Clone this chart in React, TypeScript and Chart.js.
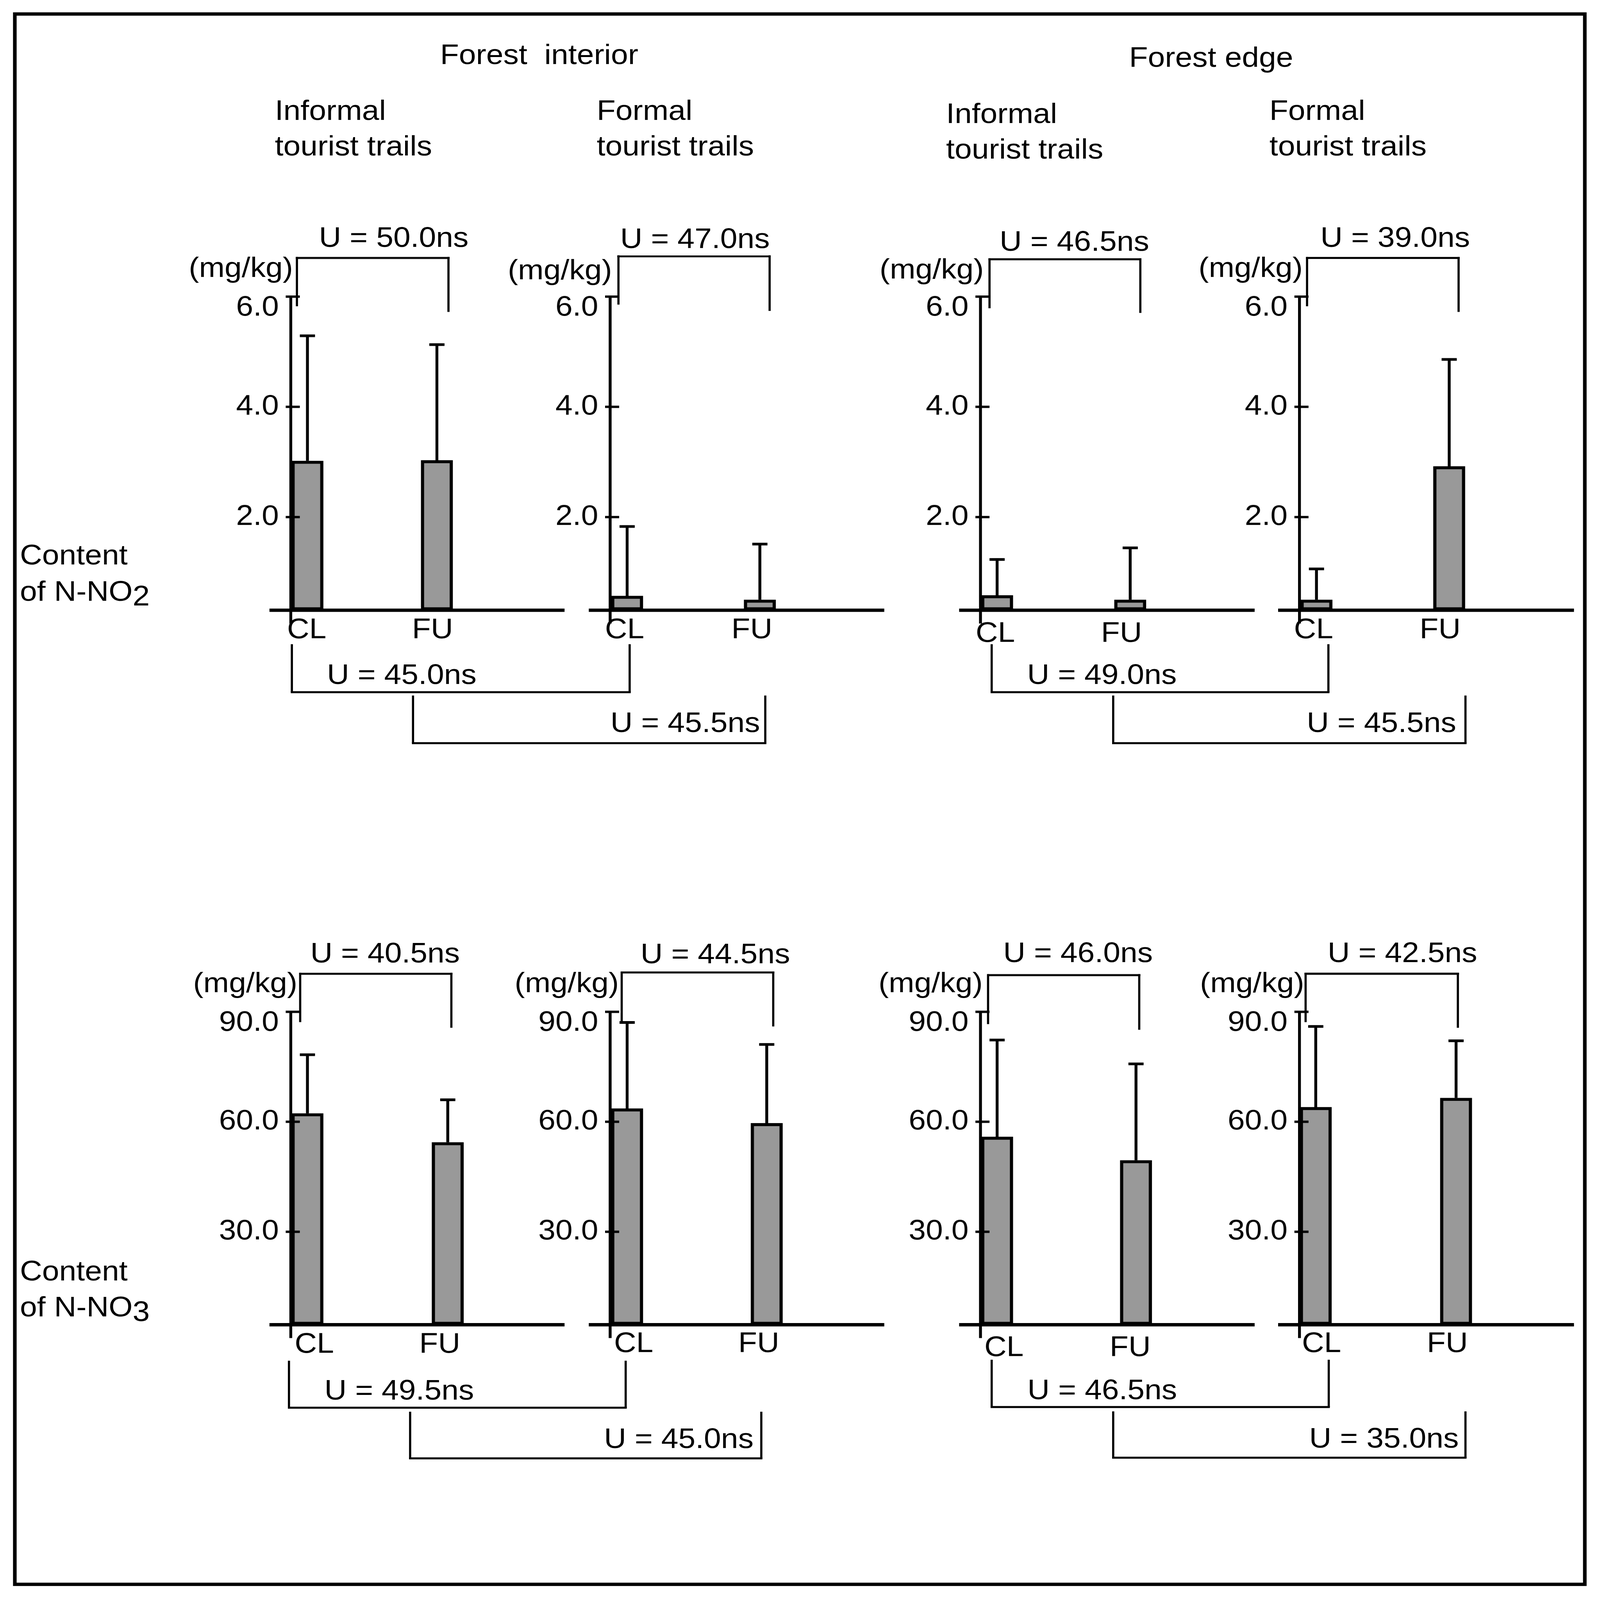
import React, { useEffect, useRef } from 'react';
import { Chart, registerables } from 'chart.js';

Chart.register(...registerables);

const FONT = "'Liberation Sans', Arial, Helvetica, sans-serif";
const FS = 85;
const PAGE_W = 4424;
const PAGE_H = 4801;

// ---------------- data ----------------
const CATEGORIES = ['CL', 'FU'];

const NO2_TICKS = [2, 4, 6];
const NO2_AXIS_MIN = 0.31;
const NO2_AXIS_MAX = 6;
const NO3_TICKS = [30, 60, 90];
const NO3_AXIS_MIN = 4.64;
const NO3_AXIS_MAX = 90;

const NO2_INTERIOR_INFORMAL_MEAN = [3.02, 3.03];
const NO2_INTERIOR_INFORMAL_SD = [2.27, 2.10];
const NO2_INTERIOR_FORMAL_MEAN = [0.57, 0.5];
const NO2_INTERIOR_FORMAL_SD = [1.26, 1.01];
const NO2_EDGE_INFORMAL_MEAN = [0.58, 0.5];
const NO2_EDGE_INFORMAL_SD = [0.65, 0.94];
const NO2_EDGE_FORMAL_MEAN = [0.5, 2.92];
const NO2_EDGE_FORMAL_SD = [0.56, 1.94];

const NO3_INTERIOR_INFORMAL_MEAN = [62.3, 54.4];
const NO3_INTERIOR_INFORMAL_SD = [16.0, 11.6];
const NO3_INTERIOR_FORMAL_MEAN = [63.6, 59.6];
const NO3_INTERIOR_FORMAL_SD = [23.5, 21.5];
const NO3_EDGE_INFORMAL_MEAN = [55.9, 49.5];
const NO3_EDGE_INFORMAL_SD = [26.4, 26.3];
const NO3_EDGE_FORMAL_MEAN = [64.0, 66.5];
const NO3_EDGE_FORMAL_SD = [22.0, 15.6];

const U_TOP_NO2 = ['U = 50.0ns', 'U = 47.0ns', 'U = 46.5ns', 'U = 39.0ns'];
const U_TOP_NO3 = ['U = 40.5ns', 'U = 44.5ns', 'U = 46.0ns', 'U = 42.5ns'];
const U_LOW_NO2 = ['U = 45.0ns', 'U = 45.5ns', 'U = 49.0ns', 'U = 45.5ns'];
const U_LOW_NO3 = ['U = 49.5ns', 'U = 45.0ns', 'U = 46.5ns', 'U = 35.0ns'];

const UNIT = '(mg/kg)';
const ZONES = ['Forest  interior', 'Forest edge'];
const TRAILS = [['Informal', 'tourist trails'], ['Formal', 'tourist trails']];

// ---------------- layout (px, in reference space) ----------------
const Y_W = 260;
const X_H = 170;
const PAD_T = 140;
const PAD_R = 20;

const ROW_TOP = { yTop: 890, yBase: 1831 };
const ROW_BOT = { yTop: 3036, yBase: 3975 };

const PANEL_LAYOUT = [
  { ...ROW_TOP, axisX: 804, clX: 850, fuX: 1208, xEnd: 1561, shift: [-2, -12], pad: 10 },
  { ...ROW_TOP, axisX: 1687, clX: 1734, fuX: 2101, xEnd: 2445, shift: [-7, -22], pad: 10 },
  { ...ROW_TOP, axisX: 2711, clX: 2757, fuX: 3125, xEnd: 3469, shift: [-5, -24], pad: 21 },
  { ...ROW_TOP, axisX: 3593, clX: 3640, fuX: 4007, xEnd: 4352, shift: [-8, -25], pad: 10 },
  { ...ROW_BOT, axisX: 804, clX: 850, fuX: 1238, xEnd: 1561, shift: [19, -22], pad: 10 },
  { ...ROW_BOT, axisX: 1687, clX: 1734, fuX: 2120, xEnd: 2445, shift: [18, -22], pad: 8 },
  { ...ROW_BOT, axisX: 2711, clX: 2757, fuX: 3141, xEnd: 3469, shift: [19, -16], pad: 20 },
  { ...ROW_BOT, axisX: 3593, clX: 3638, fuX: 4026, xEnd: 4352, shift: [16, -24], pad: 8 },
];

const TOP_BRACKETS = [
  [821, 1240, 774, 919, 936], [1710, 2128, 769, 914, 933], [2736, 3153, 778, 925, 939], [3614, 4033, 774, 919, 936],
  [830, 1248, 2922, 3067, 3084], [1719, 2138, 2918, 3065, 3080], [2732, 3150, 2926, 3073, 3090], [3610, 4031, 2922, 3067, 3084],
];
const TOP_U_POS = [
  [882, 741], [1715, 744], [2764, 752], [3651, 741],
  [858, 2888], [1771, 2891], [2774, 2887], [3671, 2887],
];
const UNIT_POS = [
  [522, 831], [1404, 838], [2432, 836], [3314, 831],
  [534, 2977], [1423, 2977], [2429, 2977], [3318, 2977],
];
const LOW_BRACKETS = [
  [807, 1741, 1936, 2077], [1142, 2116, 2090, 2230], [2742, 3673, 1936, 2077], [3078, 4052, 2090, 2230],
  [799, 1730, 4086, 4224], [1134, 2105, 4239, 4376], [2742, 3674, 4083, 4222], [3078, 4052, 4238, 4374],
];
const LOW_U_POS = [
  [904, 2052], [1688, 2197], [2840, 2052], [3613, 2197],
  [897, 4200], [1670, 4345], [2841, 4199], [3620, 4344],
];

const LW_BRACKET = 6;

type Lay = typeof PANEL_LAYOUT[number];

function PanelChart(props: { mean: number[]; sd: number[]; ticks: number[]; min: number; max: number; lay: Lay }) {
  const { mean, sd, ticks, min, max, lay } = props;
  const ref = useRef<HTMLCanvasElement>(null);
  const left = lay.axisX - Y_W;
  const top = lay.yTop - PAD_T;
  const width = Y_W + (lay.xEnd - lay.axisX) + PAD_R;
  const height = PAD_T + (lay.yBase - lay.yTop) + X_H;

  useEffect(() => {
    const u = lay.fuX - lay.clX;
    const xMin = 1 - (lay.clX - lay.axisX) / u;
    const xMax = 2 + (lay.xEnd - lay.fuX) / u;

    const deco = {
      id: 'panelDeco',
      afterDatasetsDraw(chart: any) {
        const { ctx, chartArea } = chart;
        const ys = chart.scales.y;
        const ax = chartArea.left;
        const base = chartArea.bottom;
        ctx.save();
        ctx.strokeStyle = '#000';
        ctx.lineCap = 'butt';
        // error bars: mean + SD
        const meta = chart.getDatasetMeta(0);
        ctx.lineWidth = 8;
        meta.data.forEach((el: any, i: number) => {
          const yt = ys.getPixelForValue(mean[i] + sd[i]);
          ctx.beginPath();
          ctx.moveTo(el.x, el.y);
          ctx.lineTo(el.x, yt);
          ctx.moveTo(el.x - 21, yt);
          ctx.lineTo(el.x + 21, yt);
          ctx.stroke();
        });
        // y axis line and ticks
        ctx.lineWidth = 8;
        ctx.beginPath();
        ctx.moveTo(ax, ys.getPixelForValue(ys.max) - 3);
        ctx.lineTo(ax, base + 40);
        ctx.stroke();
        ctx.lineWidth = 7;
        ys.ticks.forEach((t: any) => {
          const py = ys.getPixelForValue(t.value);
          ctx.beginPath();
          ctx.moveTo(ax - 14, py);
          ctx.lineTo(ax + 25, py);
          ctx.stroke();
        });
        // x axis line
        ctx.lineWidth = 10;
        ctx.beginPath();
        ctx.moveTo(ax - 59, base);
        ctx.lineTo(chartArea.right, base);
        ctx.stroke();
        ctx.restore();
      },
    };

    const chart = new Chart(ref.current as HTMLCanvasElement, {
      type: 'bar',
      data: {
        datasets: [
          {
            data: mean.map((m, i) => ({ x: i + 1, y: m })),
            backgroundColor: '#999999',
            borderColor: '#000000',
            borderWidth: 9,
            borderSkipped: false,
            barThickness: 88,
            base: min,
          } as any,
        ],
      },
      options: {
        responsive: true,
        maintainAspectRatio: false,
        animation: false,
        devicePixelRatio: 1,
        events: [],
        layout: { padding: { top: PAD_T, right: PAD_R, left: 0, bottom: 0 } },
        plugins: { legend: { display: false }, tooltip: { enabled: false } },
        scales: {
          x: {
            type: 'linear',
            min: xMin,
            max: xMax,
            offset: false,
            grid: { display: false, drawTicks: false },
            border: { display: false },
            afterBuildTicks: (s: any) => {
              s.ticks = CATEGORIES.map((_, i) => ({ value: i + 1 + lay.shift[i] / u }));
            },
            afterFit: (s: any) => {
              s.height = X_H;
            },
            ticks: {
              autoSkip: false,
              maxRotation: 0,
              minRotation: 0,
              padding: lay.pad,
              color: '#000',
              font: { family: FONT, size: FS, lineHeight: 1.2 },
              callback: (_v: any, i: number) => CATEGORIES[i],
            },
          },
          y: {
            type: 'linear',
            min,
            max,
            beginAtZero: false,
            grid: { display: false, drawTicks: false },
            border: { display: false },
            afterBuildTicks: (s: any) => {
              s.ticks = ticks.map((v) => ({ value: v }));
            },
            afterFit: (s: any) => {
              s.width = Y_W;
            },
            ticks: {
              autoSkip: false,
              padding: 33,
              color: '#000',
              font: { family: FONT, size: FS, lineHeight: 0.8 },
              callback: (v: any) => (Number(v) === max ? ['', Number(v).toFixed(1)] : Number(v).toFixed(1)),
            },
          },
        } as any,
      },
      plugins: [deco],
    });
    return () => chart.destroy();
  }, []);

  return (
    <div style={{ position: 'absolute', left, top, width, height }}>
      <canvas ref={ref} />
    </div>
  );
}

const Txt = ({ x, b, children }: { x: number; b: number; children: any }) => (
  <div
    style={{
      position: 'absolute',
      left: x,
      top: b - 72,
      fontFamily: FONT,
      fontSize: FS,
      lineHeight: `${FS}px`,
      whiteSpace: 'pre',
      color: '#000',
    }}
  >
    {children}
  </div>
);

const HL = ({ x1, x2, y, w = LW_BRACKET }: { x1: number; x2: number; y: number; w?: number }) => (
  <div style={{ position: 'absolute', left: x1 - w / 2, top: y - w / 2, width: x2 - x1 + w, height: w, background: '#000' }} />
);
const VL = ({ x, y1, y2, w = LW_BRACKET }: { x: number; y1: number; y2: number; w?: number }) => (
  <div style={{ position: 'absolute', left: x - w / 2, top: y1 - w / 2, width: w, height: y2 - y1 + w / 2, background: '#000' }} />
);

export default function App() {
  const vw = typeof window !== 'undefined' ? window.innerWidth : PAGE_W;
  const vh = typeof window !== 'undefined' ? window.innerHeight : PAGE_H;
  const kx = vw / PAGE_W;
  const ky = vh / PAGE_H;

  const panels = [
    { mean: NO2_INTERIOR_INFORMAL_MEAN, sd: NO2_INTERIOR_INFORMAL_SD, ticks: NO2_TICKS, min: NO2_AXIS_MIN, max: NO2_AXIS_MAX },
    { mean: NO2_INTERIOR_FORMAL_MEAN, sd: NO2_INTERIOR_FORMAL_SD, ticks: NO2_TICKS, min: NO2_AXIS_MIN, max: NO2_AXIS_MAX },
    { mean: NO2_EDGE_INFORMAL_MEAN, sd: NO2_EDGE_INFORMAL_SD, ticks: NO2_TICKS, min: NO2_AXIS_MIN, max: NO2_AXIS_MAX },
    { mean: NO2_EDGE_FORMAL_MEAN, sd: NO2_EDGE_FORMAL_SD, ticks: NO2_TICKS, min: NO2_AXIS_MIN, max: NO2_AXIS_MAX },
    { mean: NO3_INTERIOR_INFORMAL_MEAN, sd: NO3_INTERIOR_INFORMAL_SD, ticks: NO3_TICKS, min: NO3_AXIS_MIN, max: NO3_AXIS_MAX },
    { mean: NO3_INTERIOR_FORMAL_MEAN, sd: NO3_INTERIOR_FORMAL_SD, ticks: NO3_TICKS, min: NO3_AXIS_MIN, max: NO3_AXIS_MAX },
    { mean: NO3_EDGE_INFORMAL_MEAN, sd: NO3_EDGE_INFORMAL_SD, ticks: NO3_TICKS, min: NO3_AXIS_MIN, max: NO3_AXIS_MAX },
    { mean: NO3_EDGE_FORMAL_MEAN, sd: NO3_EDGE_FORMAL_SD, ticks: NO3_TICKS, min: NO3_AXIS_MIN, max: NO3_AXIS_MAX },
  ];
  const topU = [...U_TOP_NO2, ...U_TOP_NO3];
  const lowU = [...U_LOW_NO2, ...U_LOW_NO3];

  return (
    <div style={{ position: 'absolute', left: 0, top: 0, width: vw, height: vh, overflow: 'hidden', background: '#fff' }}>
      <div
        style={{
          position: 'absolute',
          left: 0,
          top: 0,
          width: PAGE_W,
          height: PAGE_H,
          background: '#fff',
          fontFamily: FONT,
          transform: `scale(${kx}, ${ky})`,
          transformOrigin: '0 0',
        }}
      >
        <div
          style={{
            position: 'absolute',
            left: 36,
            top: 37,
            width: 4351,
            height: 4722,
            border: '10px solid #000',
            boxSizing: 'border-box',
          }}
        />

        <Txt x={1217} b={192}>{ZONES[0]}</Txt>
        <Txt x={3122} b={200}>{ZONES[1]}</Txt>
        <Txt x={760} b={360}>{TRAILS[0][0]}</Txt>
        <Txt x={760} b={467}>{TRAILS[0][1]}</Txt>
        <Txt x={1650} b={360}>{TRAILS[1][0]}</Txt>
        <Txt x={1650} b={467}>{TRAILS[1][1]}</Txt>
        <Txt x={2616} b={369}>{TRAILS[0][0]}</Txt>
        <Txt x={2616} b={476}>{TRAILS[0][1]}</Txt>
        <Txt x={3510} b={360}>{TRAILS[1][0]}</Txt>
        <Txt x={3510} b={467}>{TRAILS[1][1]}</Txt>

        <Txt x={55} b={1694}>Content</Txt>
        <Txt x={55} b={1803}>
          of N-NO<span style={{ position: 'relative', top: 14 }}>2</span>
        </Txt>
        <Txt x={55} b={3842}>Content</Txt>
        <Txt x={55} b={3950}>
          of N-NO<span style={{ position: 'relative', top: 14 }}>3</span>
        </Txt>

        {panels.map((p, i) => (
          <PanelChart key={i} {...p} lay={PANEL_LAYOUT[i]} />
        ))}

        {UNIT_POS.map(([x, b], i) => (
          <Txt key={'u' + i} x={x} b={b}>{UNIT}</Txt>
        ))}

        {TOP_BRACKETS.map(([l, r, t, lb, rb], i) => (
          <React.Fragment key={'tb' + i}>
            <HL x1={l} x2={r} y={t} />
            <VL x={l} y1={t} y2={lb} />
            <VL x={r} y1={t} y2={rb} />
            <Txt x={TOP_U_POS[i][0]} b={TOP_U_POS[i][1]}>{topU[i]}</Txt>
          </React.Fragment>
        ))}

        {LOW_BRACKETS.map(([l, r, t, btm], i) => (
          <React.Fragment key={'lb' + i}>
            <VL x={l} y1={t} y2={btm} />
            <VL x={r} y1={t} y2={btm} />
            <HL x1={l} x2={r} y={btm} />
            <Txt x={LOW_U_POS[i][0]} b={LOW_U_POS[i][1]}>{lowU[i]}</Txt>
          </React.Fragment>
        ))}
      </div>
    </div>
  );
}
